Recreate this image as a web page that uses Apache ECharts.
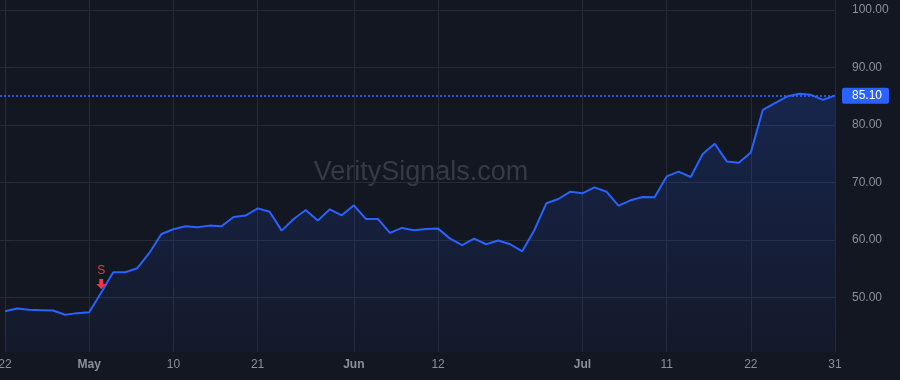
<!DOCTYPE html>
<html>
<head>
<meta charset="utf-8">
<script src="https://cdn.jsdelivr.net/npm/echarts@6/dist/echarts.min.js"></script>
<style>
html,body{margin:0;padding:0;background:#131722;}
#chart{width:900px;height:380px;}
</style>
</head>
<body>
<div id="chart"></div>
<script>
// ---- data ----
const dates = ['2024-04-22','2024-04-23','2024-04-24','2024-04-25','2024-04-26','2024-04-29','2024-04-30',
  '2024-05-01','2024-05-02','2024-05-03','2024-05-06','2024-05-07','2024-05-08','2024-05-09','2024-05-10',
  '2024-05-13','2024-05-14','2024-05-15','2024-05-16','2024-05-17','2024-05-20','2024-05-21','2024-05-22',
  '2024-05-23','2024-05-24','2024-05-28','2024-05-29','2024-05-30','2024-05-31','2024-06-03','2024-06-04',
  '2024-06-05','2024-06-06','2024-06-07','2024-06-10','2024-06-11','2024-06-12','2024-06-13','2024-06-14',
  '2024-06-17','2024-06-18','2024-06-20','2024-06-21','2024-06-24','2024-06-25','2024-06-26','2024-06-27',
  '2024-06-28','2024-07-01','2024-07-02','2024-07-03','2024-07-05','2024-07-08','2024-07-09','2024-07-10',
  '2024-07-11','2024-07-12','2024-07-15','2024-07-16','2024-07-17','2024-07-18','2024-07-19','2024-07-22',
  '2024-07-23','2024-07-24','2024-07-25','2024-07-26','2024-07-29','2024-07-30','2024-07-31'];
const closes = [47.62,48.09,47.86,47.80,47.74,46.99,47.28,47.45,50.87,54.40,
  54.40,55.09,57.75,61.05,61.86,62.38,62.21,62.50,62.38,64.00,
  64.24,65.50,64.90,61.63,63.66,65.22,63.37,65.33,64.29,66.03,
  63.66,63.66,61.23,62.10,61.69,61.92,61.98,60.24,59.09,60.24,
  59.26,59.90,59.26,58.04,61.69,66.38,67.13,68.40,68.11,69.15,
  68.40,65.97,66.90,67.48,67.42,71.06,71.88,70.95,74.95,76.74,
  73.67,73.44,75.23,82.64,83.80,84.95,85.42,85.24,84.38,85.10];
const xTickIndex = [0,7,14,21,29,36,48,55,62,69];
const xTickLabels = ['22','May','10','21','Jun','12','Jul','11','22','31'];
const monthLabels = ['May','Jun','Jul'];
const yTicks = [50,60,70,80,90,100];
const lastPrice = 85.10;
const signalIndex = 8;
const signalText = 'S';
const watermark = 'VeritySignals.com';

// ---- chart ----
const FONT = '"Liberation Sans", Arial, sans-serif';
const GRID = '#262a35';
const TEXT = '#8c8f99';
const BLUE = '#2962ff';
const RED = '#f23645';

const chart = echarts.init(document.getElementById('chart'), null, {renderer:'canvas'});
const seriesData = closes.map((v,i)=>[i,v]);

chart.setOption({
  animation:false,
  backgroundColor:'#131722',
  textStyle:{fontFamily:FONT},
  grid:{left:0,right:64,top:0,bottom:28,containLabel:false,outerBoundsMode:'none'},
  graphic:[{
    type:'text', x:421, y:173, z:0,
    style:{text:watermark, fill:'#363a45', font:'27px ' + FONT, textAlign:'center', textVerticalAlign:'middle'}
  }],
  xAxis:{
    type:'value', min:-0.4157, max:69.08,
    axisLine:{show:false},
    axisTick:{show:false, customValues:xTickIndex},
    splitLine:{show:true, lineStyle:{color:GRID, width:1}},
    axisLabel:{
      customValues:xTickIndex, margin:7, color:TEXT, fontSize:12, fontFamily:FONT,
      formatter:function(v){
        const i = xTickIndex.indexOf(Math.round(v));
        const t = i >= 0 ? xTickLabels[i] : '';
        return monthLabels.indexOf(t) >= 0 ? '{b|' + t + '}' : t;
      },
      rich:{b:{fontWeight:'bold', color:TEXT, fontSize:12, fontFamily:FONT}}
    }
  },
  yAxis:{
    type:'value', position:'right', min:40.52, max:101.74,
    axisLine:{show:true, lineStyle:{color:'#2a2e39'}},
    axisTick:{show:true, inside:false, length:6, customValues:yTicks, lineStyle:{color:'#2a2e39'}},
    splitLine:{show:true, lineStyle:{color:GRID, width:1}},
    axisLabel:{customValues:yTicks, margin:16, align:'left', color:TEXT, fontSize:12, fontFamily:FONT,
      formatter:function(v){return Number(v).toFixed(2);}}
  },
  series:[{
    type:'line', data:seriesData, showSymbol:false, symbol:'none', z:3,
    lineStyle:{color:BLUE, width:2},
    areaStyle:{color:new echarts.graphic.LinearGradient(0,0,0,1,[
      {offset:0,color:'rgba(41,98,255,0.28)'},{offset:1,color:'rgba(41,98,255,0.05)'}])},
    markLine:{
      silent:true, symbol:['none','none'],
      lineStyle:{color:BLUE, type:[2,2], width:1.7, opacity:1},
      label:{show:true, position:'end', distance:6, formatter:lastPrice.toFixed(2),
        color:'#ffffff', backgroundColor:BLUE, padding:[2,7,2,10], fontSize:12, fontFamily:FONT,
        lineHeight:12, borderRadius:2},
      data:[{yAxis:lastPrice}]
    },
    markPoint:{
      silent:true,
      data:[{
        coord:[signalIndex, closes[signalIndex]],
        symbol:'path://M3,0 L7,0 L7,5 L10,5 L5,10 L0,5 L3,5 Z',
        symbolSize:[10,10], symbolOffset:[0,-8.5],
        itemStyle:{color:RED},
        label:{show:true, formatter:signalText, position:'top', distance:2, color:RED, fontSize:12, fontFamily:FONT}
      }]
    }
  }]
});
</script>
</body>
</html>
